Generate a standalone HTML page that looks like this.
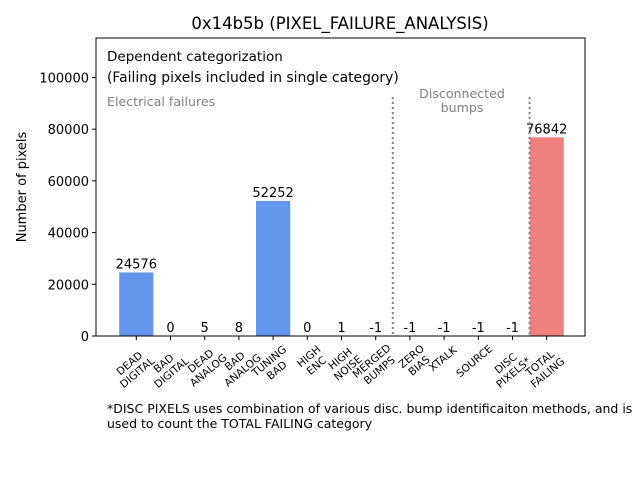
<!DOCTYPE html>
<html><head><meta charset="utf-8"><style>
body{margin:0;background:#fff;}
svg{display:block;font-family:"DejaVu Sans","Liberation Sans",sans-serif;}
</style></head><body>
<svg id="chart" width="640" height="480" viewBox="0 0 640 480">
<rect width="640" height="480" fill="#fff"/>
<text x="340" y="29" text-anchor="middle" font-size="16.5">0x14b5b (PIXEL_FAILURE_ANALYSIS)</text>
<g id="bars"></g>
<g id="yaxis"></g>
<g id="xaxis"></g>
<rect x="96" y="38" width="489" height="298" fill="none" stroke="#000" stroke-width="1"/>
<text x="107" y="61" font-size="13.5">Dependent categorization</text>
<text x="107" y="82" font-size="13.9">(Failing pixels included in single category)</text>
<text x="107" y="106" font-size="12.6" fill="#808080">Electrical failures</text>
<text x="462" y="98" font-size="12.6" fill="#808080" text-anchor="middle"><tspan x="462">Disconnected</tspan><tspan x="462" dy="14">bumps</tspan></text>
<text x="107" y="413" font-size="12.5"><tspan x="107">*DISC PIXELS uses combination of various disc. bump identificaiton methods, and is</tspan><tspan x="107" dy="15">used to count the TOTAL FAILING category</tspan></text>
<text transform="translate(26,187) rotate(-90)" text-anchor="middle" font-size="13">Number of pixels</text>
</svg>
<script>
const categories=[["DEAD","DIGITAL"],["BAD","DIGITAL"],["DEAD","ANALOG"],["BAD","ANALOG"],["TUNING","BAD"],["HIGH","ENC"],["HIGH","NOISE"],["MERGED","BUMPS"],["ZERO","BIAS"],["XTALK"],["SOURCE"],["DISC","PIXELS*"],["TOTAL","FAILING"]];
const values=[24576,0,5,8,52252,0,1,-1,-1,-1,-1,-1,76842];
const colors=["#6495ed","#6495ed","#6495ed","#6495ed","#6495ed","#6495ed","#6495ed","#6495ed","#6495ed","#6495ed","#6495ed","#6495ed","#f08080"];
const yTicks=[0,20000,40000,60000,80000,100000];
const separators=[7.5,11.5];
const NS="http://www.w3.org/2000/svg";
const x0=136.3,dx=34.2,yBase=336,yTop=38;
const yMax=Math.max(...values)*1.5;
function xs(i){return x0+dx*i;}
function ys(v){return yBase-(v/yMax)*(yBase-yTop);}
function mk(tag,attrs,parent,text){const e=document.createElementNS(NS,tag);for(const k in attrs)e.setAttribute(k,attrs[k]);if(text!==undefined)e.textContent=text;parent.appendChild(e);return e;}
const bars=document.getElementById('bars'),ya=document.getElementById('yaxis'),xa=document.getElementById('xaxis');
values.forEach((v,i)=>{
  const y1=ys(Math.max(v,0)),y2=ys(Math.min(v,0));
  const r=mk('rect',{x:xs(i)-dx/2,y:y1,width:dx,height:Math.max(y2-y1,0),fill:colors[i]},bars);
  
  
  const t=mk('text',{x:xs(i),y:ys(Math.max(v,0))-4,'text-anchor':'middle','font-size':13},bars,String(v));
  
  
});
separators.forEach(s=>{
  const l=mk('line',{x1:xs(s),x2:xs(s),y1:97,y2:yBase,stroke:'#808080','stroke-width':2,'stroke-dasharray':'2,3'},bars);
  
  
});
yTicks.forEach(v=>{
  const y=ys(v);
  const l=mk('line',{x1:92,x2:96,y1:y,y2:y,stroke:'#000'},ya);
  
  
  const t=mk('text',{x:89,y:y+5,'text-anchor':'end','font-size':13},ya,String(v));
  
  
});
categories.forEach((c,i)=>{
  const x=xs(i);
  const l=mk('line',{x1:x,x2:x,y1:336,y2:340,stroke:'#000'},xa);
  
  
  const g=mk('g',{transform:`translate(${x+9},${343}) rotate(-40)`},xa);
  
  
  const w=Math.max(...c.map(s=>s.length))*7.2;
  c.forEach((line,j)=>{mk('text',{x:-w/2,y:9+j*12,'text-anchor':'middle','font-size':10.5},g,line);});
});
</script>
</body></html>
